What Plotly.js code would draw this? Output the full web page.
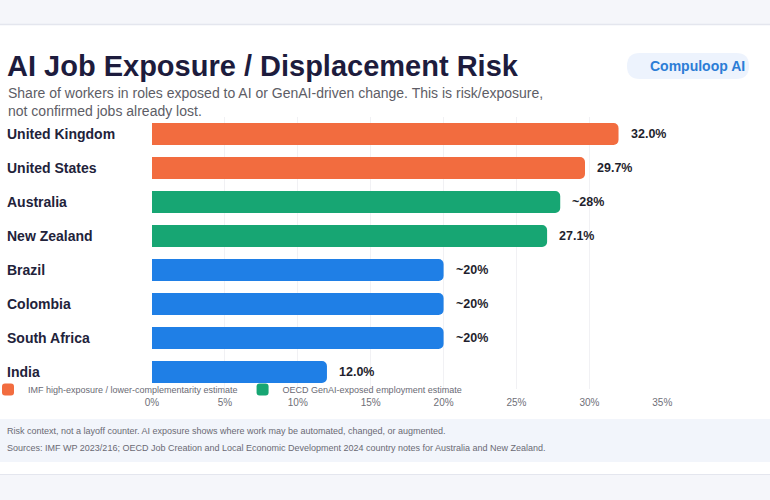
<!DOCTYPE html>
<html>
<head>
<meta charset="utf-8">
<script src="https://cdn.plot.ly/plotly-3.0.1.min.js"></script>
<style>
  html, body { margin: 0; padding: 0; background: #ffffff; }
  #chart { width: 770px; height: 500px; }
</style>
</head>
<body>
<div id="chart"></div>
<script>
// Country order, top to bottom
const countries = ["United Kingdom", "United States", "Australia", "New Zealand",
                   "Brazil", "Colombia", "South Africa", "India"];

// IMF high-exposure / lower-complementarity estimate (advanced economies)
const imfCountries = ["United Kingdom", "United States"];
const imfValues = [32.0, 29.7];
const imfLabels = ["32.0%", "29.7%"];

// OECD GenAI-exposed employment estimate
const oecdCountries = ["Australia", "New Zealand"];
const oecdValues = [28, 27.1];
const oecdLabels = ["~28%", "27.1%"];

// IMF emerging-market estimates
const emCountries = ["Brazil", "Colombia", "South Africa", "India"];
const emValues = [20, 20, 20, 12.0];
const emLabels = ["~20%", "~20%", "~20%", "12.0%"];

const xTickVals = [0, 5, 10, 15, 20, 25, 30, 35];
const xTickText = ["0%", "5%", "10%", "15%", "20%", "25%", "30%", "35%"];

// Plot area in pixels, used to place the page furniture around it
const W = 770, H = 500;
const M = { l: 152, r: 107, t: 117, b: 111 };
const PW = W - M.l - M.r, PH = H - M.t - M.b;
const px = v => (v - M.l) / PW;
const py = v => (H - M.b - v) / PH;

const COLORS = { imf: "#f26c3f", oecd: "#17a673", em: "#1f7fe6" };
const FONT = "Liberation Sans, Arial, sans-serif";

function barTrace(name, ys, xs, color, showlegend) {
  return {
    type: "bar", orientation: "h", name: name,
    y: ys, x: xs, width: 0.64,
    marker: { color: color, cornerradius: 5, line: { width: 0 } },
    showlegend: showlegend, hoverinfo: "x+y"
  };
}

const data = [
  barTrace("IMF high-exposure / lower-complementarity estimate", imfCountries, imfValues, COLORS.imf, true),
  barTrace("OECD GenAI-exposed employment estimate", oecdCountries, oecdValues, COLORS.oecd, true),
  barTrace("IMF emerging-market estimate", emCountries, emValues, COLORS.em, false)
];

const annotations = [];

// Left-aligned country labels
countries.forEach(c => annotations.push({
  xref: "paper", yref: "y", x: px(5), y: c, xanchor: "left", yanchor: "middle",
  text: c, showarrow: false,
  font: { family: FONT, size: 14, color: "#22223a", weight: 700 }
}));

// Value labels at bar ends
function valueLabels(ys, xs, labels) {
  ys.forEach((c, i) => annotations.push({
    xref: "x", yref: "y", x: xs[i], y: c, xanchor: "left", yanchor: "middle",
    xshift: 10, text: labels[i], showarrow: false,
    font: { family: FONT, size: 12.5, color: "#1f1f2e", weight: 700 }
  }));
}
valueLabels(imfCountries, imfValues, imfLabels);
valueLabels(oecdCountries, oecdValues, oecdLabels);
valueLabels(emCountries, emValues, emLabels);

// Subtitle
annotations.push({
  xref: "paper", yref: "paper", x: px(6), y: py(83), xanchor: "left", yanchor: "top",
  align: "left", showarrow: false,
  text: "Share of workers in roles exposed to AI or GenAI-driven change. This is risk/exposure,<br>not confirmed jobs already lost.",
  font: { family: FONT, size: 14, color: "#5d5d66" }
});

// Brand badge
annotations.push({
  xref: "paper", yref: "paper", x: px(697), y: py(66), xanchor: "center", yanchor: "middle",
  text: "Compuloop AI", showarrow: false,
  font: { family: FONT, size: 14, color: "#2c7dd6", weight: 700 }
});

// Footer notes
annotations.push({
  xref: "paper", yref: "paper", x: px(5), y: py(431), xanchor: "left", yanchor: "middle",
  text: "Risk context, not a layoff counter. AI exposure shows where work may be automated, changed, or augmented.",
  showarrow: false, font: { family: FONT, size: 9, color: "#6a6a74" }
});
annotations.push({
  xref: "paper", yref: "paper", x: px(5), y: py(448), xanchor: "left", yanchor: "middle",
  text: "Sources: IMF WP 2023/216; OECD Job Creation and Local Economic Development 2024 country notes for Australia and New Zealand.",
  showarrow: false, font: { family: FONT, size: 9, color: "#6a6a74" }
});

// Rounded pill outline for the badge
function pill(x0, y0, x1, y1, r) {
  const X = v => px(v), Y = v => py(v);
  return `M${X(x0 + r)},${Y(y0)} L${X(x1 - r)},${Y(y0)} ` +
         `Q${X(x1)},${Y(y0)} ${X(x1)},${Y(y0 + r)} ` +
         `Q${X(x1)},${Y(y1)} ${X(x1 - r)},${Y(y1)} ` +
         `L${X(x0 + r)},${Y(y1)} ` +
         `Q${X(x0)},${Y(y1)} ${X(x0)},${Y(y0 + r)} ` +
         `Q${X(x0)},${Y(y0)} ${X(x0 + r)},${Y(y0)} Z`;
}

const shapes = [
  // top strip
  { type: "rect", xref: "paper", yref: "paper", x0: px(0), x1: px(W), y0: py(0), y1: py(24),
    fillcolor: "#f5f6fa", line: { width: 0 }, layer: "below" },
  { type: "line", xref: "paper", yref: "paper", x0: px(0), x1: px(W), y0: py(24.5), y1: py(24.5),
    line: { color: "#e4e6ee", width: 1.5 }, layer: "below" },
  // footer band
  { type: "rect", xref: "paper", yref: "paper", x0: px(0), x1: px(W), y0: py(419), y1: py(462),
    fillcolor: "#f2f5fb", line: { width: 0 }, layer: "below" },
  // bottom strip
  { type: "rect", xref: "paper", yref: "paper", x0: px(0), x1: px(W), y0: py(475), y1: py(H),
    fillcolor: "#f5f6fa", line: { width: 0 }, layer: "below" },
  { type: "line", xref: "paper", yref: "paper", x0: px(0), x1: px(W), y0: py(474.5), y1: py(474.5),
    line: { color: "#e4e6ee", width: 1.2 }, layer: "below" },
  // badge background
  { type: "path", xref: "paper", yref: "paper", path: pill(627, 53, 749, 79, 13),
    fillcolor: "#edf3fd", line: { width: 0 }, layer: "below" }
];

const layout = {
  width: W, height: H,
  margin: { l: M.l, r: M.r, t: M.t, b: M.b, pad: 0, autoexpand: false },
  paper_bgcolor: "#ffffff", plot_bgcolor: "#ffffff",
  font: { family: FONT, color: "#333" },
  title: {
    text: "<b>AI Job Exposure / Displacement Risk</b>",
    xref: "container", yref: "container", x: 7 / W, xanchor: "left",
    y: 1 - 66 / H, yanchor: "middle",
    font: { family: FONT, size: 29, color: "#1d1c3d" }
  },
  barmode: "overlay",
  xaxis: {
    range: [0, 35.05], tickvals: xTickVals, ticktext: xTickText,
    showgrid: true, gridcolor: "#f1f1f4", gridwidth: 1,
    zeroline: false, showline: false, ticks: "",
    tickfont: { size: 10, color: "#6f6f78" }, ticklabelstandoff: 6,
    automargin: false, fixedrange: true
  },
  yaxis: {
    type: "category", categoryorder: "array", categoryarray: countries,
    autorange: "reversed", showticklabels: false, showgrid: false,
    zeroline: false, showline: false, ticks: "", automargin: false, fixedrange: true
  },
  showlegend: true,
  legend: {
    orientation: "h", xref: "paper", yref: "paper",
    x: px(-12), y: -0.002, xanchor: "left", yanchor: "middle",
    bgcolor: "rgba(0,0,0,0)", itemwidth: 30, tracegroupgap: 0,
    font: { size: 9, color: "#6a6a74" }, itemclick: false, itemdoubleclick: false
  },
  shapes: shapes,
  annotations: annotations
};

Plotly.newPlot("chart", data, layout, { displayModeBar: false, staticPlot: true });
</script>
</body>
</html>
